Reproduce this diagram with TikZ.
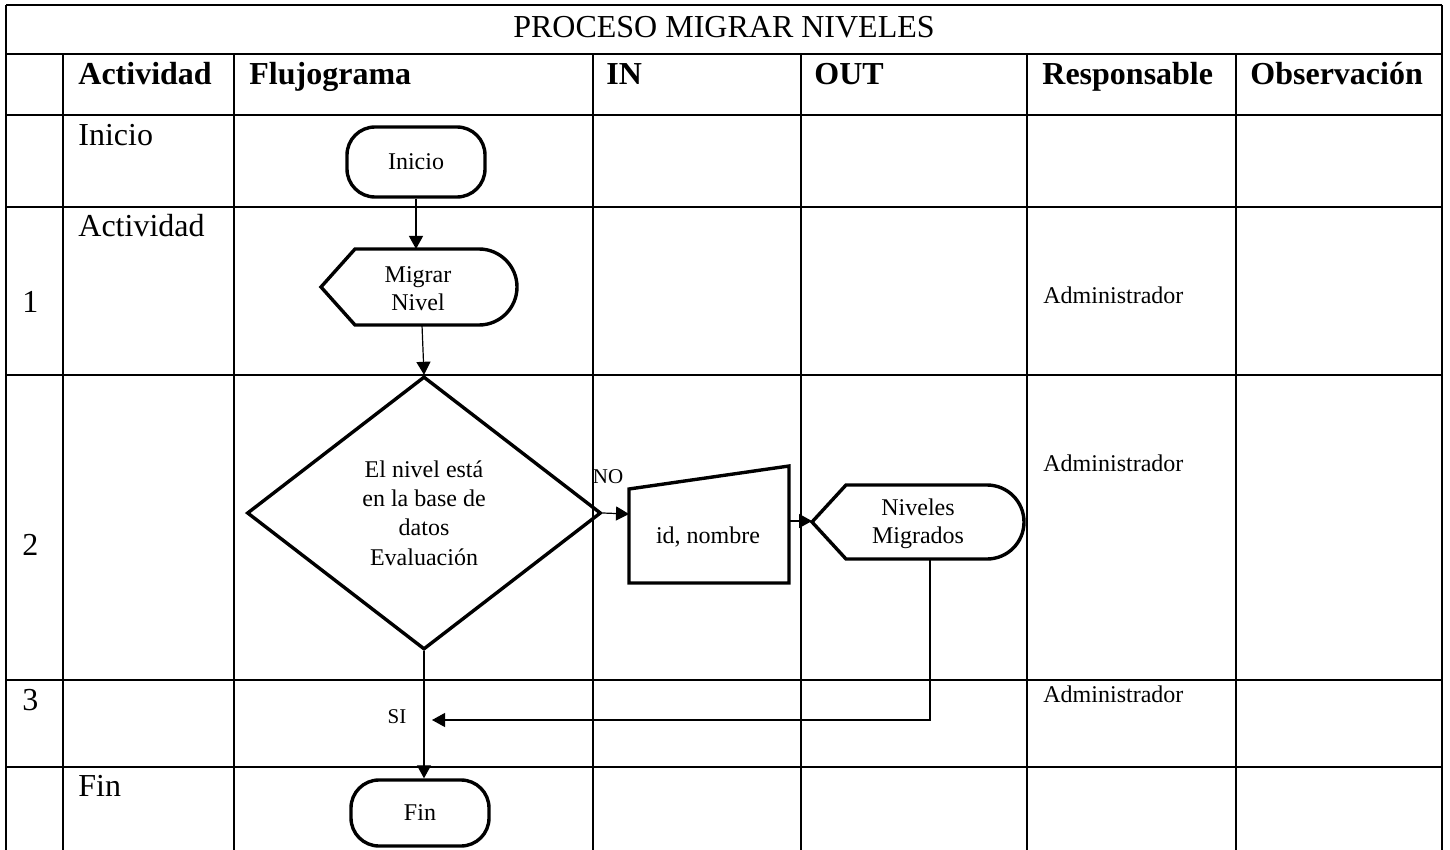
\documentclass[tikz,border=0pt]{standalone}
\usepackage{fontspec}
\setmainfont{Liberation Serif}
\usetikzlibrary{shapes.geometric,arrows.meta}

\tikzset{
	grid line/.style={line width=1pt},
	shape line/.style={line width=1.7pt},
	conn/.style={line width=0.6pt,-{Triangle[length=6.5pt,width=7pt]}},
	big/.style={font=\fontsize{16}{19}\selectfont},
	small/.style={font=\fontsize{12}{14}\selectfont},
	tiny label/.style={font=\fontsize{10.5}{12}\selectfont},
	cell/.style={anchor=base west,inner sep=0pt},
	terminal/.style={draw,shape line,rounded corners=14pt,minimum width=69pt,inner sep=0pt,small},
}

%display shape: left point x, centre y, straight part, half height
\newcommand{\Pantalla}[4]{
	\draw[shape line] (#1,#2) -- ++(34,-#4) -- ++(#3,0) arc (-90:90:#4) -- ++(-#3,0) -- cycle;
}

\begin{document}
\begin{tikzpicture}[x=0.5pt,y=-0.5pt]
	\useasboundingbox (0,0) rectangle (1450,850);

	%table
	\foreach \y in {5,54,115,207,375,680,767}{
		\draw[grid line] (6,\y) -- (1442,\y);
	}
	\foreach \x in {6,1442}{
		\draw[grid line] (\x,5) -- (\x,850);
	}
	\foreach \x in {63,234,593,801,1027,1236}{
		\draw[grid line] (\x,54) -- (\x,850);
	}

	%title and header
	\node[big,anchor=base] (titulo) at (724,38) {PROCESO MIGRAR NIVELES};
	\foreach \x/\t [count=\i] in {78/Actividad,249/Flujograma,606/IN,814/OUT,1042/Responsable,1250/Observación}{
		\node[big,cell] (head\i) at (\x,85) {\textbf{\t}};
	}

	%first columns
	\node[big,cell] (act0) at (78,146) {Inicio};
	\node[big,cell] (act1) at (78,236) {Actividad};
	\node[big,cell] (act4) at (78,796) {Fin};
	\foreach \n/\y in {1/312,2/555,3/710}{
		\node[big,cell] (num\n) at (22,\y) {\n};
	}

	%responsable
	\foreach \y [count=\i] in {303,471,702}{
		\node[small,cell] (resp\i) at (1043,\y) {Administrador};
	}

	%flujograma
	\node[terminal,minimum height=35pt] (inicio) at (416,162) {Inicio};

	\Pantalla{321}{287}{124}{38}
	\node[small,align=center] (migrar) at (418,289) {Migrar\\Nivel};
	\coordinate (migrar-n) at (416,249);
	\coordinate (migrar-s) at (422,325);

	\node[draw,diamond,shape line,minimum width=177pt,minimum height=136.5pt,inner sep=0pt,
		font=\fontsize{12}{14.7}\selectfont,align=center] (eval) at (424,513)
		{El nivel está\\en la base de\\datos\\Evaluación};

	%manual input
	\draw[shape line] (629,489) -- (789,466) -- (789,583) -- (629,583) -- cycle;
	\node[small] (datos) at (708,537) {id, nombre};
	\coordinate (datos-w) at (629,514);
	\coordinate (datos-e) at (789,521);

	\Pantalla{812}{522}{141}{37}
	\node[small,align=center] (niveles) at (918,524) {Niveles\\Migrados};
	\coordinate (niveles-w) at (812,521);
	\coordinate (niveles-s) at (930,560);
	\coordinate (si-end) at (432,720);

	\node[terminal,minimum height=33pt] (fin) at (420,813) {Fin};

	%labels
	\node[tiny label] (no) at (608,477) {NO};
	\node[tiny label] (si) at (397,717) {SI};

	%connectors
	\draw[conn] (inicio.south) -- (migrar-n);
	\draw[conn] (migrar-s) -- (eval.north);
	\draw[conn] (eval.east) -- (datos-w);
	\draw[conn] (datos-e) -- (niveles-w);
	\draw[conn] (niveles-s) |- (si-end);
	\draw[conn] (eval.south) -- (eval.south |- fin.north);
\end{tikzpicture}
\end{document}
